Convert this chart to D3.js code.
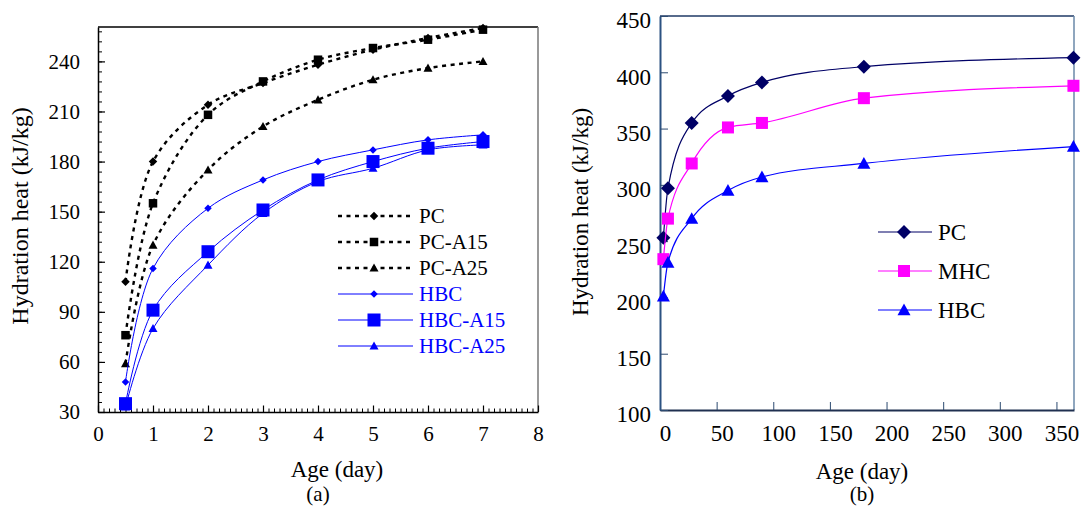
<!DOCTYPE html>
<html>
<head>
<meta charset="utf-8">
<script src="https://cdn.jsdelivr.net/npm/d3@7"></script>
<style>
  body { margin: 0; background: #fff; }
</style>
</head>
<body>
<div id="chart"></div>
<script>
// data
// (a) early age, days
let earlyAges = [0.5, 1, 2, 3, 4, 5, 6, 7];
let pcEarly = [108, 180, 214, 227, 238, 247, 254, 260];
let pcA15Early = [76, 155, 208, 228, 241, 248, 253, 259];
let pcA25Early = [59, 130, 175, 201, 217, 229, 236, 240];
let hbcEarly = [48, 116, 152, 169, 180, 187, 193, 196];
let hbcA15Early = [35, 91, 126, 151, 169, 180, 188, 192];
let hbcA25Early = [33, 80, 118, 149, 168, 176, 187, 190];
let earlyXTicks = [0, 1, 2, 3, 4, 5, 6, 7, 8];
let earlyYTicks = [30, 60, 90, 120, 150, 180, 210, 240];

// (b) long term, days
let longAges = [3, 7, 28, 60, 90, 180, 365];
let pcLong = [253, 297, 355, 379, 391, 405, 413];
let mhcLong = [234, 270, 319, 351, 355, 377, 388];
let hbcLong = [201, 231, 270, 295, 307, 319, 334];
let longXTicks = [0, 50, 100, 150, 200, 250, 300, 350];
let longYTicks = [100, 150, 200, 250, 300, 350, 400, 450];

let serif = "'Liberation Serif', 'Times New Roman', serif";

let svg = d3.select('#chart')
  .append('svg')
  .attr('width', 1083)
  .attr('height', 507)
  .attr('font-family', serif);

svg.append('rect').attr('width', 1083).attr('height', 507).attr('fill', '#fff');

// draw one marker centred on x, y
function drawMarker(parent, x, y, shape, size, color) {
  let g = parent.append('g').attr('transform', `translate(${x}, ${y})`);
  let h = size / 2;
  if (shape === 'diamond') {
    g.append('path').attr('d', `M0,${-h}L${h},0L0,${h}L${-h},0Z`).attr('fill', color);
  } else if (shape === 'square') {
    g.append('rect').attr('x', -h).attr('y', -h).attr('width', size).attr('height', size).attr('fill', color);
  } else {
    g.append('path').attr('d', `M0,${-h}L${h},${h * 0.8}L${-h},${h * 0.8}Z`).attr('fill', color);
  }
}

function styleTicks(ax, size) {
  ax.attr('font-family', serif);
  ax.selectAll('text')
    .attr('font-size', size)
    .attr('font-family', serif)
    .attr('fill', '#000');
}

// ---------- chart (a) ----------
let a = { left: 98, right: 538, top: 27, bottom: 412 };

let xA = d3.scaleLinear().domain([0, 8]).range([a.left, a.right]);
let yA = d3.scaleLinear().domain([30, 260.6]).range([a.bottom, a.top]);

let chartA = svg.append('g');

// frame
chartA.append('line').attr('x1', a.left).attr('x2', a.right).attr('y1', a.top).attr('y2', a.top)
  .attr('stroke', '#000').attr('stroke-width', 1.5);
chartA.append('line').attr('x1', a.right).attr('x2', a.right).attr('y1', a.top).attr('y2', a.bottom)
  .attr('stroke', '#777').attr('stroke-width', 1.5);

// minor ticks
chartA.append('g')
  .attr('transform', `translate(0, ${a.bottom})`)
  .call(d3.axisBottom(xA).tickValues(d3.range(0, 8.01, 0.1)).tickSize(-3.5).tickFormat(''))
  .call(g => g.select('.domain').remove())
  .selectAll('line').attr('stroke', '#000');
chartA.append('g')
  .attr('transform', `translate(${a.left}, 0)`)
  .call(d3.axisLeft(yA).tickValues(d3.range(30, 261, 6)).tickSize(-4).tickFormat(''))
  .call(g => g.select('.domain').remove())
  .selectAll('line').attr('stroke', '#000');

// major axes
let xAxisA = chartA.append('g')
  .attr('transform', `translate(0, ${a.bottom})`)
  .call(d3.axisBottom(xA).tickValues(earlyXTicks).tickSize(-6.5).tickPadding(14).tickSizeOuter(0));
let yAxisA = chartA.append('g')
  .attr('transform', `translate(${a.left}, 0)`)
  .call(d3.axisLeft(yA).tickValues(earlyYTicks).tickSize(-7).tickPadding(18).tickSizeOuter(0));

[xAxisA, yAxisA].forEach(ax => {
  ax.select('.domain').attr('stroke', '#000').attr('stroke-width', 1.5);
  ax.selectAll('line').attr('stroke', '#000').attr('stroke-width', 1.2);
  styleTicks(ax, 21);
});

let earlySeries = [
  { name: 'PC', values: pcEarly, shape: 'diamond', size: 8.5, color: '#000', dash: '4,4.5', width: 2.4 },
  { name: 'PC-A15', values: pcA15Early, shape: 'square', size: 8.5, color: '#000', dash: '4,4.5', width: 2.4 },
  { name: 'PC-A25', values: pcA25Early, shape: 'triangle', size: 9, color: '#000', dash: '4,4.5', width: 2.4 },
  { name: 'HBC', values: hbcEarly, shape: 'diamond', size: 7.5, color: '#0000ff', dash: null, width: 1 },
  { name: 'HBC-A15', values: hbcA15Early, shape: 'square', size: 13, color: '#0000ff', dash: null, width: 1 },
  { name: 'HBC-A25', values: hbcA25Early, shape: 'triangle', size: 9, color: '#0000ff', dash: null, width: 1 }
];

let lineA = d3.line()
  .x(d => xA(d[0]))
  .y(d => yA(d[1]))
  .curve(d3.curveCatmullRom.alpha(0.5));

earlySeries.forEach(s => {
  let pts = earlyAges.map((t, i) => [t, s.values[i]]);
  chartA.append('path')
    .attr('d', lineA(pts))
    .attr('fill', 'none')
    .attr('stroke', s.color)
    .attr('stroke-width', s.width)
    .attr('stroke-dasharray', s.dash);
  pts.forEach(p => drawMarker(chartA, xA(p[0]), yA(p[1]), s.shape, s.size, s.color));
});

// legend (a)
earlySeries.forEach((s, i) => {
  let ly = 216 + i * 26;
  chartA.append('line')
    .attr('x1', 338).attr('x2', 413).attr('y1', ly).attr('y2', ly)
    .attr('stroke', s.color)
    .attr('stroke-width', s.width)
    .attr('stroke-dasharray', s.dash);
  drawMarker(chartA, 374, ly, s.shape, s.size, s.color);
  chartA.append('text')
    .attr('x', 419).attr('y', ly)
    .attr('dy', '0.35em')
    .attr('font-size', 21)
    .attr('fill', s.color)
    .text(s.name);
});

// axis titles (a)
chartA.append('text')
  .attr('transform', 'translate(28, 216) rotate(-90)')
  .attr('text-anchor', 'middle')
  .attr('font-size', 24)
  .text('Hydration heat (kJ/kg)');
chartA.append('text')
  .attr('x', 337).attr('y', 477)
  .attr('text-anchor', 'middle')
  .attr('font-size', 23)
  .text('Age (day)');
chartA.append('text')
  .attr('x', 318).attr('y', 501)
  .attr('text-anchor', 'middle')
  .attr('font-size', 21)
  .text('(a)');

// ---------- chart (b) ----------
let b = { left: 660, right: 1074, top: 16, bottom: 410 };

let xB = d3.scaleLinear().domain([0, 365.5]).range([b.left, b.right]);
let yB = d3.scaleLinear().domain([100, 450]).range([b.bottom, b.top]);

let chartB = svg.append('g');

chartB.append('line').attr('x1', b.left).attr('x2', b.right).attr('y1', b.top).attr('y2', b.top)
  .attr('stroke', '#1f3a66').attr('stroke-width', 1.5);
chartB.append('line').attr('x1', b.right).attr('x2', b.right).attr('y1', b.top).attr('y2', b.bottom)
  .attr('stroke', '#6a88a8').attr('stroke-width', 1.5);

let xAxisB = chartB.append('g')
  .attr('transform', `translate(0, ${b.bottom})`)
  .call(d3.axisBottom(xB).tickValues(longXTicks).tickSize(-8).tickPadding(15).tickSizeOuter(0));
let yAxisB = chartB.append('g')
  .attr('transform', `translate(${b.left}, 0)`)
  .call(d3.axisLeft(yB).tickValues(longYTicks).tickSize(-8).tickPadding(9).tickSizeOuter(0));

xAxisB.select('.domain').attr('stroke', '#1f3050').attr('stroke-width', 2);
yAxisB.select('.domain').attr('stroke', '#2c5282').attr('stroke-width', 2);
[xAxisB, yAxisB].forEach(ax => {
  ax.selectAll('line').attr('stroke', '#2c4a70').attr('stroke-width', 1);
  styleTicks(ax, 23);
});
xAxisB.selectAll('text').attr('dx', 5);
yAxisB.selectAll('text').attr('dy', '0.52em');

let longSeries = [
  { name: 'PC', values: pcLong, shape: 'diamond', size: 14, color: '#000066' },
  { name: 'MHC', values: mhcLong, shape: 'square', size: 12, color: '#ff00ff' },
  { name: 'HBC', values: hbcLong, shape: 'triangle', size: 13, color: '#0000ff' }
];

let lineB = d3.line()
  .x(d => xB(d[0]))
  .y(d => yB(d[1]))
  .curve(d3.curveMonotoneX);

longSeries.forEach(s => {
  let pts = longAges.map((t, i) => [t, s.values[i]]);
  chartB.append('path')
    .attr('d', lineB(pts))
    .attr('fill', 'none')
    .attr('stroke', s.color)
    .attr('stroke-width', 1.2);
  pts.forEach(p => drawMarker(chartB, xB(p[0]), yB(p[1]), s.shape, s.size, s.color));
});

// legend (b)
longSeries.forEach((s, i) => {
  let ly = 232 + i * 39;
  chartB.append('line')
    .attr('x1', 878).attr('x2', 932).attr('y1', ly).attr('y2', ly)
    .attr('stroke', s.color)
    .attr('stroke-width', 1.2);
  drawMarker(chartB, 904, ly, s.shape, s.size, s.color);
  chartB.append('text')
    .attr('x', 938).attr('y', ly)
    .attr('dy', '0.35em')
    .attr('font-size', 23)
    .attr('fill', '#000')
    .text(s.name);
});

// axis titles (b)
chartB.append('text')
  .attr('transform', 'translate(588, 212) rotate(-90)')
  .attr('text-anchor', 'middle')
  .attr('font-size', 23)
  .text('Hydration heat (kJ/kg)');
chartB.append('text')
  .attr('x', 862).attr('y', 479)
  .attr('text-anchor', 'middle')
  .attr('font-size', 23)
  .text('Age (day)');
chartB.append('text')
  .attr('x', 862).attr('y', 501)
  .attr('text-anchor', 'middle')
  .attr('font-size', 21)
  .text('(b)');
</script>
</body>
</html>
